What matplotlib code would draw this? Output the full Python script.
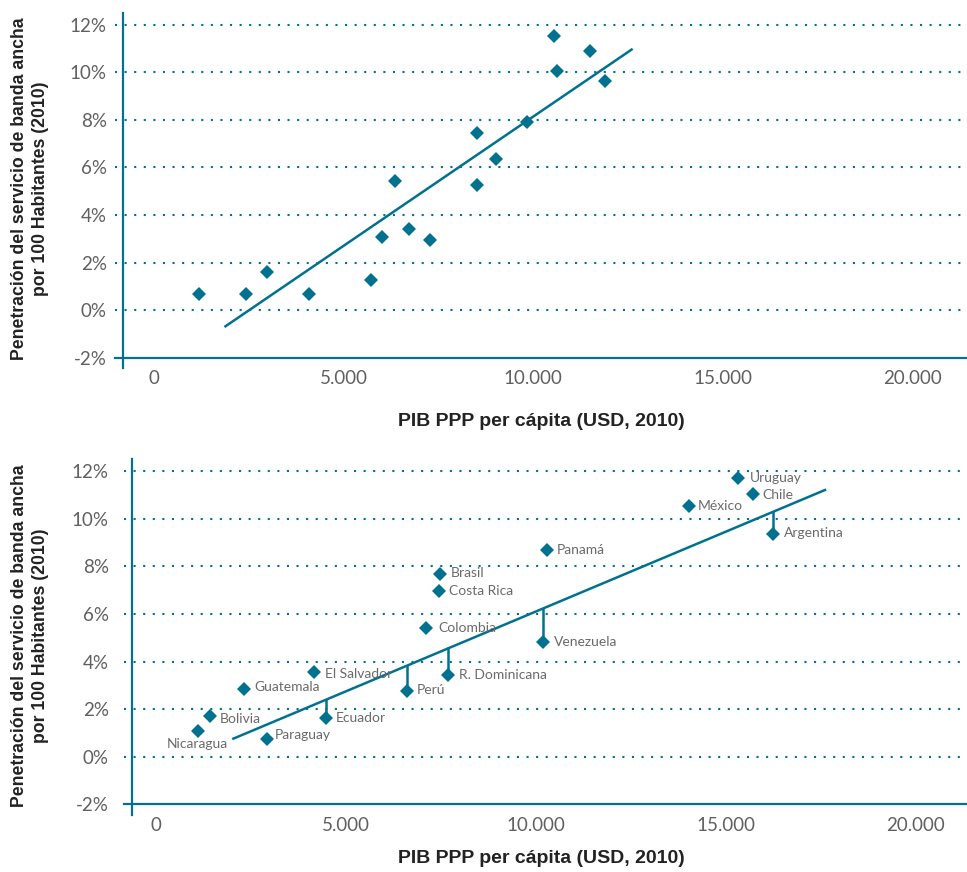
import numpy as np
import matplotlib
matplotlib.use("Agg")
import matplotlib.pyplot as plt
import matplotlib.transforms as mtransforms
from matplotlib.ticker import FuncFormatter

# Panel A: broadband penetration vs GDP per capita (unlabelled sample)
gdp_a = [1200, 2420, 2980, 4080, 5730, 6030, 6370, 6740, 7290,
         8530, 8530, 9030, 9830, 10560, 10630, 11510, 11900]
bb_a = [0.66, 0.66, 1.61, 0.66, 1.28, 3.07, 5.41, 3.43, 2.94,
        7.45, 5.27, 6.37, 7.89, 11.51, 10.07, 10.87, 9.62]
trend_a_x = [1890, 12600]
trend_a_y = [-0.68, 10.95]

# Panel B: Latin American countries
countries = ["Nicaragua", "Bolivia", "Guatemala", "Paraguay", "El Salvador",
             "Ecuador", "Perú", "Colombia", "Costa Rica", "Brasil",
             "R. Dominicana", "Venezuela", "Panamá", "México", "Uruguay",
             "Chile", "Argentina"]
gdp_b = [1090, 1420, 2310, 2910, 4160, 4480, 6590, 7100, 7440, 7480,
         7680, 10180, 10280, 14030, 15330, 15720, 16230]
bb_b = [1.10, 1.72, 2.84, 0.76, 3.56, 1.62, 2.77, 5.42, 6.95, 7.67,
        3.43, 4.81, 8.68, 10.55, 11.70, 11.04, 9.38]
trend_b_x = [2030, 17610]
trend_b_y = [0.76, 11.21]
below_trend = ["Ecuador", "Perú", "R. Dominicana", "Venezuela", "Argentina"]

x_ticks = [0, 5000, 10000, 15000, 20000]
y_ticks = [-2, 0, 2, 4, 6, 8, 10, 12]

# label placement (pixels from the marker)
label_offset = {
    "Nicaragua": (0, -13, "center"), "Bolivia": (10, -3, "left"),
    "Guatemala": (10, 2, "left"), "Paraguay": (8, 4, "left"),
    "El Salvador": (11, -2, "left"), "Ecuador": (9, 0, "left"),
    "Perú": (10, 1, "left"), "Colombia": (12, 0, "left"),
    "Costa Rica": (10, 0, "left"), "Brasil": (10, 1, "left"),
    "R. Dominicana": (11, 0, "left"), "Venezuela": (11, 0, "left"),
    "Panamá": (10, 0, "left"), "México": (9, 0, "left"),
    "Uruguay": (11, 0, "left"), "Chile": (9, -1, "left"),
    "Argentina": (11, 1, "left"),
}

TEAL = "#00718f"
TICK_GREY = "#606060"
LABEL_FONT = "Liberation Sans"
TICK_FONT = "Lato"

fig = plt.figure(figsize=(9.67, 8.72), dpi=100)


def style_axes(ax, xlim, yaxis_x):
    ax.set_xlim(*xlim)
    ax.set_ylim(-2, 12.5)
    for side in ["top", "right", "left"]:
        ax.spines[side].set_visible(False)
    ax.spines["bottom"].set_color(TEAL)
    ax.spines["bottom"].set_linewidth(1.6)
    ax.set_xticks(x_ticks)
    ax.set_yticks(y_ticks)
    ax.xaxis.set_major_formatter(FuncFormatter(lambda v, p: f"{v:,.0f}".replace(",", ".")))
    ax.yaxis.set_major_formatter(FuncFormatter(lambda v, p: f"{v:.0f}%"))
    ax.tick_params(length=0, labelsize=13.5, labelcolor=TICK_GREY)
    ax.tick_params(axis="x", pad=9)
    for lab in ax.get_xticklabels() + ax.get_yticklabels():
        lab.set_fontfamily(TICK_FONT)
    shift = mtransforms.ScaledTranslation(0, 4 / 100, fig.dpi_scale_trans)
    for lab in ax.get_yticklabels():
        lab.set_transform(lab.get_transform() + shift)
    # dotted gridlines above the axis
    for y in y_ticks[1:]:
        ax.axhline(y, color=TEAL, lw=1.5, ls=(0, (1, 3.6)), zorder=1)
    # vertical axis line, crossing slightly below the horizontal one
    ax.plot([yaxis_x, yaxis_x], [-2.45, 12.5], color=TEAL, lw=1.6,
            clip_on=False, zorder=2)


# ---- top panel ----
ax1 = fig.add_axes([0.11892, 0.58979, 0.88108, 0.39564])
style_axes(ax1, (-1023, 21445), -807)
ax1.tick_params(axis="y", pad=6)
ax1.plot(trend_a_x, trend_a_y, color=TEAL, lw=1.8, zorder=3)
ax1.plot(gdp_a, bb_a, ls="none", marker="D", ms=7, color=TEAL,
         markeredgewidth=0, zorder=4)

# ---- bottom panel ----
ax2 = fig.add_axes([0.12823, 0.07764, 0.87177, 0.39564])
style_axes(ax2, (-851, 21350), -640)
ax2.tick_params(axis="y", pad=11)

slope = (trend_b_y[1] - trend_b_y[0]) / (trend_b_x[1] - trend_b_x[0])
ax2.plot(trend_b_x, trend_b_y, color=TEAL, lw=1.8, zorder=3)
for name, x, y in zip(countries, gdp_b, bb_b):
    if name in below_trend:
        y_line = trend_b_y[0] + slope * (x - trend_b_x[0])
        ax2.plot([x, x], [y, y_line], color=TEAL, lw=1.8, zorder=3)
ax2.plot(gdp_b, bb_b, ls="none", marker="D", ms=6.7, color=TEAL,
         markeredgewidth=0, zorder=4)
for name, x, y in zip(countries, gdp_b, bb_b):
    dx, dy, ha = label_offset[name]
    ax2.annotate(name, (x, y), xytext=(dx, dy), textcoords="offset pixels",
                 ha=ha, va="center", fontsize=10, color="#6a6a6a",
                 fontfamily=TICK_FONT, zorder=5)

# ---- axis titles ----
ytitle = "Penetración del servicio de banda ancha\npor 100 Habitantes (2010)"
xtitle = "PIB PPP per cápita (USD, 2010)"
for yc in [189, 636]:
    fig.text(30 / 967, 1 - yc / 872, ytitle, rotation=90, ha="center",
             va="center", multialignment="center", fontsize=12.7,
             fontweight="bold", fontfamily=LABEL_FONT, color="#222222",
             linespacing=1.35)
for yc in [421, 858]:
    fig.text(541 / 967, 1 - yc / 872, xtitle, ha="center", va="center",
             fontsize=14, fontweight="bold", fontfamily=LABEL_FONT,
             color="#222222")

fig.savefig("out.png", dpi=100)
